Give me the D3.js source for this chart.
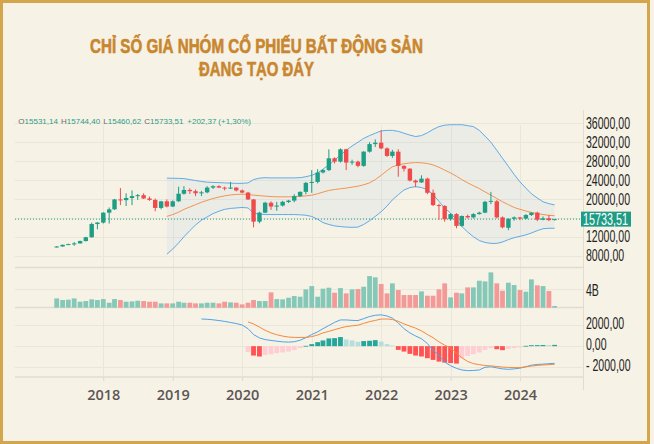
<!DOCTYPE html>
<html>
<head>
<meta charset="utf-8">
<script src="https://cdn.jsdelivr.net/npm/d3@7"></script>
<style>
  body { margin: 0; background: #f7f2e6; }
  svg { display: block; }
</style>
</head>
<body>
<div id="chart"></div>
<script>
const W = 654, H = 444;

// monthly bars, May 2017 .. Jul 2024
const months = d3.utcMonth.range(new Date(Date.UTC(2017, 4, 1)), new Date(Date.UTC(2024, 7, 1)));

const open = [9850, 9950, 10300, 10450, 10600, 11100, 11900, 14700, 15000, 17100,
  17800, 19900, 19750, 20200, 20600, 20800, 20100, 19800, 18100, 19500,
  18400, 19500, 21100, 21900, 21650, 21200, 21400, 22400, 22700, 22400,
  22300, 22400, 21800, 21350, 19900, 15200, 17100, 19200, 18400, 18600,
  19350, 19650, 20600, 21500, 23400, 23600, 25600, 26100, 28600, 27900,
  30500, 27700, 27900, 27000, 30000, 31600, 31900, 30700, 29100, 30000,
  27000, 26400, 23900, 23500, 24300, 21300, 18700, 18500, 15700, 16800,
  14300, 16400, 16100, 16800, 17100, 19400, 19500, 16100, 13900, 15800,
  16100, 15850, 16600, 17100, 15600, 15900, 15531.14];
const high = [10050, 10350, 10550, 10900, 11200, 12000, 15000, 15100, 17200, 18200,
  20000, 22300, 21200, 21800, 21050, 21200, 20500, 20100, 19600, 19900,
  19700, 22600, 22700, 22250, 22000, 21700, 22700, 22900, 22900, 22600,
  23600, 22500, 22000, 21500, 20000, 17300, 19400, 19500, 19400, 19600,
  19800, 21000, 21600, 23600, 26100, 26300, 26300, 30500, 28800, 30700,
  30600, 28300, 28100, 30100, 32000, 32600, 34500, 30900, 30400, 30500,
  27100, 26500, 24100, 25000, 24500, 22000, 19000, 18700, 17000, 17000,
  16500, 16700, 17000, 17300, 19600, 21500, 19800, 16300, 15900, 16300,
  16200, 16800, 17200, 17300, 16300, 16600, 15744.40];
const low = [9750, 9900, 10250, 10100, 10550, 11000, 11800, 13600, 14800, 14800,
  17700, 18700, 18500, 18700, 19800, 20000, 19600, 17400, 17800, 18200,
  18300, 19400, 20900, 21050, 20600, 20600, 21200, 22100, 22300, 21800,
  22100, 21600, 21200, 19800, 14000, 14850, 17000, 17700, 17500, 18400,
  19150, 19300, 20400, 21000, 21300, 23300, 25400, 25900, 27500, 27700,
  26100, 27200, 26700, 26800, 29800, 31000, 30500, 28900, 28700, 24700,
  25800, 23700, 22500, 23400, 21000, 18500, 15600, 15200, 15400, 13800,
  14100, 15900, 15900, 16700, 17000, 18900, 15900, 13800, 13400, 15400,
  15500, 15700, 16400, 15300, 15500, 15300, 15460.62];
const close = [9950, 10300, 10450, 10600, 11100, 11900, 14700, 15000, 17100, 17800,
  19900, 19750, 20200, 20600, 20800, 20100, 19800, 18100, 19500, 18400,
  19500, 21100, 21900, 21650, 21200, 21400, 22400, 22700, 22400, 22300,
  22400, 21800, 21350, 19900, 15200, 17100, 19200, 18400, 18600, 19400,
  19650, 20600, 21500, 23400, 23600, 25600, 26100, 28600, 27900, 30500,
  27700, 27900, 27000, 30000, 31600, 31900, 30700, 29100, 30000, 27000,
  26400, 23900, 23500, 24300, 21300, 18700, 18500, 15700, 16800, 14300,
  16400, 16100, 16800, 17100, 19400, 19600, 16100, 14000, 15800, 16100,
  15850, 16600, 17100, 15600, 15900, 15531, 15733.51];

// volume, billions
const volume = [1.94, 1.60, 1.67, 1.94, 1.25, 1.39, 1.74, 1.60, 1.80, 1.04,
  1.80, 1.60, 1.25, 1.32, 1.46, 1.39, 1.25, 1.25, 0.90, 0.90,
  0.90, 1.25, 1.04, 1.04, 0.90, 0.90, 1.04, 1.04, 0.90, 1.25,
  1.11, 1.04, 0.69, 1.04, 1.60, 1.39, 1.39, 3.19, 1.80, 1.74,
  2.08, 2.43, 2.29, 3.82, 4.51, 2.29, 3.96, 4.16, 3.12, 4.09,
  2.98, 3.82, 3.89, 4.37, 6.59, 6.32, 4.93, 2.98, 5.07, 3.68,
  2.64, 2.64, 2.64, 3.40, 2.50, 2.50, 3.82, 5.07, 2.15, 3.12,
  2.98, 4.23, 4.23, 5.62, 5.48, 7.36, 5.07, 3.54, 5.21, 4.72,
  3.68, 3.33, 5.90, 4.65, 4.51, 3.47, 0.35];

// Bollinger bands, from Dec 2018 (bar 19)
const bbStart = 19;
const bbUpper = [24400, 24380, 24350, 24300, 24100, 23900, 23700, 23550, 23500, 23450,
  23400, 23350, 23300, 23300, 23400, 24100, 24400, 24500, 24450, 24450,
  24450, 24450, 24450, 24500, 24700, 25000, 25500, 26300, 27200, 28200,
  29300, 30300, 31200, 32000, 32800, 33400, 33900, 34400, 34500, 34500,
  34300, 33900, 33500, 33200, 33400, 34000, 34700, 35300, 35600, 35700,
  35700, 35700, 35500, 35300, 34500, 33300, 32000, 30300, 28600, 26900,
  25200, 23600, 22300, 21100, 20200, 19400, 19000, 18750];
const bbMiddle = [16300, 16700, 17200, 17800, 18300, 18800, 19300, 19700, 20100, 20400,
  20650, 20850, 20950, 21000, 20950, 20800, 20700, 20600, 20500, 20450,
  20450, 20450, 20500, 20550, 20650, 20800, 21100, 21450, 21800, 22000,
  22150, 22300, 22500, 22700, 23000, 23400, 24100, 25000, 26000, 26800,
  27200, 27450, 27600, 27700, 27650, 27500, 27200, 26700, 26100, 25500,
  24800, 24100, 23400, 22800, 22200, 21500, 20800, 20100, 19400, 18800,
  18200, 17800, 17450, 17150, 16900, 16700, 16550, 16450];
const bbLower = [8300, 9400, 10700, 12000, 13300, 14500, 15500, 16200, 16900, 17400,
  17800, 18000, 18100, 18200, 18100, 17000, 16800, 16700, 16700, 16700,
  16700, 16700, 16700, 16650, 16550, 16300, 15700, 15000, 14600, 14300,
  14150, 14050, 14000, 14050, 14600, 15400, 16300, 17300, 18500, 19800,
  20900, 21900, 22400, 22600, 22400, 22000, 20900, 19500, 18100, 17000,
  15600, 14200, 13000, 12000, 11200, 10800, 10600, 10600, 10900, 11400,
  11800, 12100, 12400, 12800, 13300, 13700, 13800, 13800];

// MACD line from Jun 2019 (bar 25), signal and histogram from Feb 2020 (bar 33)
const macdStart = 25;
const macdLine = [2570, 2540, 2490, 2420, 2340, 2240, 2140, 2000, 1650, 1100,
  780, 620, 540, 470, 410, 380, 420, 560, 800, 1100,
  1350, 1650, 1950, 2250, 2480, 2480, 2440, 2420, 2600, 2800,
  2920, 2960, 2850, 2650, 2200, 1650, 1250, 960, 700, 250,
  -400, -850, -1500, -1850, -2100, -2250, -2320, -2300, -2250, -2000,
  -1950, -2050, -2150, -2190, -2150, -2080, -1950, -1800, -1730, -1700,
  -1660, -1620];
const signalStart = 33;
const signalLine = [2290, 2100, 1800, 1500, 1250, 1080, 950, 860, 830, 820,
  830, 900, 1050, 1250, 1400, 1560, 1720, 1850, 1920, 1980,
  2150, 2320, 2430, 2560, 2570, 2520, 2350, 2100, 1900, 1700,
  1450, 1100, 800, 400, 100, -200, -650, -1100, -1450, -1650,
  -1750, -1830, -1870, -1920, -1980, -2010, -2030, -2030, -1950, -1880,
  -1820, -1780, -1750, -1710];
const histogram = [-560, -890, -980, -830, -760, -670, -600, -510, -380, -190,
  30, 190, 380, 540, 730, 760, 860, 630, 540, 410,
  480, 510, 570, 430, 190, 60, -350, -510, -730, -890,
  -980, -1140, -1300, -1460, -1560, -1600, -1650, -1140, -920, -760,
  -600, -350, -190, -290, -380, -250, -190, -120, 30, 90,
  95, 110, 100, 120];

const priceTicks = [8000, 12000, 20000, 24000, 28000, 32000, 36000];
const priceGrid = [8000, 12000, 16000, 20000, 24000, 28000, 32000, 36000];
const macdTicks = [2000, 0, -2000];
const years = [2018, 2019, 2020, 2021, 2022, 2023, 2024];

const title1 = 'CHỈ SỐ GIÁ NHÓM CỔ PHIẾU BẤT ĐỘNG SẢN';
const title2 = 'ĐANG TẠO ĐÁY';

const green = '#1e9e85', red = '#ef4b4b';
const volGreen = '#86c8b7', volRed = '#f39a98';
const blue = '#4ea3e6', orange = '#f5893a';
const grid = '#ebe6da', sep = '#e1dcd0';
const narrow = '"Liberation Sans Narrow", "Liberation Sans", Arial, sans-serif';

const loc = d3.formatLocale({ decimal: ',', thousands: '', grouping: [3], currency: ['', ''] });
const fmt = loc.format('.2f');

const left = 15, right = 583;

const x = d3.scaleUtc()
  .domain([new Date(Date.UTC(2018, 0, 1)), new Date(Date.UTC(2024, 0, 1))])
  .range([103.3, 520]);
const yP = d3.scaleLinear().domain([8000, 36000]).range([255.7, 123.3]);
const yV = d3.scaleLinear().domain([0, 4]).range([307.7, 288.5]);
const yM = d3.scaleLinear().domain([-2000, 2000]).range([367.3, 325]);

const svg = d3.select('#chart').append('svg').attr('width', W).attr('height', H);

svg.append('rect').attr('width', W).attr('height', H).attr('fill', '#f7f2e6');
svg.append('rect')
  .attr('x', 1.5).attr('y', 1.5).attr('width', 647).attr('height', 441)
  .attr('fill', 'none').attr('stroke', '#d3a64c').attr('stroke-width', 3);

// title
[[title1, 52.5, 333], [title2, 76, 115]].forEach(([t, ty, tw]) => {
  svg.append('text')
    .attr('x', 256.5).attr('y', ty)
    .attr('text-anchor', 'middle')
    .attr('textLength', tw).attr('lengthAdjust', 'spacingAndGlyphs')
    .style('font-family', narrow).style('font-weight', 'bold').style('font-size', '19.5px')
    .attr('fill', '#c8862f').attr('stroke', '#c8862f').attr('stroke-width', 0.6)
    .text(t);
});

// grid
const gGrid = svg.append('g');
gGrid.selectAll('.hgrid').data(priceGrid).join('line')
  .attr('x1', left).attr('x2', right)
  .attr('y1', d => Math.round(yP(d)) + 0.5).attr('y2', d => Math.round(yP(d)) + 0.5)
  .attr('stroke', grid);
gGrid.selectAll('.vgrid').data(years).join('line')
  .attr('x1', d => Math.round(x(new Date(Date.UTC(d, 0, 1)))) + 0.5)
  .attr('x2', d => Math.round(x(new Date(Date.UTC(d, 0, 1)))) + 0.5)
  .attr('y1', 125).attr('y2', 381)
  .attr('stroke', grid);
gGrid.append('line').attr('x1', left).attr('x2', right).attr('y1', Math.round(yV(4)) + 0.5).attr('y2', Math.round(yV(4)) + 0.5).attr('stroke', grid);
gGrid.selectAll('.mgrid').data(macdTicks).join('line')
  .attr('x1', left).attr('x2', right)
  .attr('y1', d => Math.round(yM(d)) + 0.5).attr('y2', d => Math.round(yM(d)) + 0.5)
  .attr('stroke', grid);
[267.5, 307.5, 377].forEach(yy => {
  gGrid.append('line').attr('x1', left).attr('x2', right).attr('y1', yy).attr('y2', yy)
    .attr('stroke', sep).attr('stroke-width', 1.5);
});
gGrid.append('line').attr('x1', right + 0.5).attr('x2', right + 0.5).attr('y1', 110).attr('y2', 390).attr('stroke', sep);

// Bollinger bands
const bbIdx = d3.range(bbUpper.length);
svg.append('path')
  .datum(bbIdx)
  .attr('d', d3.area().x(k => x(months[k + bbStart])).y0(k => yP(bbLower[k])).y1(k => yP(bbUpper[k])))
  .attr('fill', '#2196f3').attr('fill-opacity', 0.055);
[[bbUpper, blue], [bbLower, blue], [bbMiddle, orange]].forEach(([arr, col]) => {
  svg.append('path')
    .datum(bbIdx)
    .attr('d', d3.line().x(k => x(months[k + bbStart])).y(k => yP(arr[k])))
    .attr('fill', 'none').attr('stroke', col).attr('stroke-width', 0.9);
});

// last price line
const last = close[close.length - 1];
svg.append('line')
  .attr('x1', left).attr('x2', right)
  .attr('y1', yP(last)).attr('y2', yP(last))
  .attr('stroke', green).attr('stroke-dasharray', '1,2');

// candles
const idx = d3.range(months.length);
const up = i => close[i] >= open[i];
const gC = svg.append('g');
gC.selectAll('line').data(idx).join('line')
  .attr('x1', i => x(months[i])).attr('x2', i => x(months[i]))
  .attr('y1', i => yP(high[i])).attr('y2', i => yP(low[i]))
  .attr('stroke', i => up(i) ? green : red).attr('stroke-width', 1);
gC.selectAll('rect').data(idx).join('rect')
  .attr('x', i => x(months[i]) - 2.2)
  .attr('width', 4.4)
  .attr('y', i => yP(Math.max(open[i], close[i])))
  .attr('height', i => Math.max(1, Math.abs(yP(open[i]) - yP(close[i]))))
  .attr('fill', i => up(i) ? green : red);

// volume
svg.append('g').selectAll('rect').data(idx).join('rect')
  .attr('x', i => x(months[i]) - 2.4)
  .attr('width', 4.8)
  .attr('y', i => yV(volume[i]))
  .attr('height', i => yV(0) - yV(volume[i]))
  .attr('fill', i => up(i) ? volGreen : volRed);

// MACD histogram
const hIdx = d3.range(histogram.length);
const histColor = k => {
  const v = histogram[k], prev = k > 0 ? histogram[k - 1] : -Infinity;
  if (v >= 0) return v >= prev ? '#26a69a' : '#b2dfdb';
  return v < prev ? '#ff5252' : '#ffcdd2';
};
svg.append('g').selectAll('rect').data(hIdx).join('rect')
  .attr('x', k => x(months[k + signalStart]) - 2.4)
  .attr('width', 4.8)
  .attr('y', k => Math.min(yM(0), yM(histogram[k])))
  .attr('height', k => Math.max(0.8, Math.abs(yM(histogram[k]) - yM(0))))
  .attr('fill', histColor);

svg.append('path')
  .datum(d3.range(macdLine.length))
  .attr('d', d3.line().x(k => x(months[k + macdStart])).y(k => yM(macdLine[k])))
  .attr('fill', 'none').attr('stroke', blue).attr('stroke-width', 1);
svg.append('path')
  .datum(d3.range(signalLine.length))
  .attr('d', d3.line().x(k => x(months[k + signalStart])).y(k => yM(signalLine[k])))
  .attr('fill', 'none').attr('stroke', orange).attr('stroke-width', 1);

// x axis
const xAxis = d3.axisBottom(x)
  .tickValues(years.map(y => new Date(Date.UTC(y, 0, 1))))
  .tickFormat(d3.utcFormat('%Y'))
  .tickSize(4).tickPadding(9);
const gx = svg.append('g').attr('transform', 'translate(0,377)').call(xAxis);
gx.select('.domain').remove();
gx.selectAll('line').attr('stroke', sep);
gx.selectAll('text')
  .style('font-family', '"Open Sans", "Noto Sans", sans-serif')
  .style('font-weight', 600).style('font-size', '14.5px')
  .attr('fill', '#5b5654');

// right axis labels, squeezed to the narrow look of the original
function squeeze(sel, ref, refWidth) {
  const probe = svg.append('text').style('font-family', narrow).style('font-size', '16px').text(ref);
  const k = refWidth / probe.node().getComputedTextLength();
  probe.remove();
  sel.each(function () {
    const len = this.getComputedTextLength();
    d3.select(this).attr('textLength', len * k).attr('lengthAdjust', 'spacingAndGlyphs');
  });
}

const yAxis = d3.axisRight(yP).tickValues(priceTicks).tickFormat(fmt).tickSize(0).tickPadding(3);
const gy = svg.append('g').attr('transform', `translate(${right},0)`).call(yAxis);
gy.select('.domain').remove();
gy.selectAll('text').style('font-family', narrow).style('font-size', '16px').attr('fill', '#222222');
squeeze(gy.selectAll('text'), '36000,00', 44);

const gm = svg.append('g');
gm.selectAll('text').data(macdTicks).join('text')
  .attr('x', 586).attr('y', d => yM(d) - 2).attr('dy', '0.35em')
  .style('font-family', narrow).style('font-size', '16px').attr('fill', '#222222')
  .text(d => d < 0 ? '- ' + fmt(-d) : fmt(d));
squeeze(gm.selectAll('text'), '36000,00', 44);

const gvl = svg.append('text')
  .attr('x', 586).attr('y', yV(4) + 1.5).attr('dy', '0.35em')
  .style('font-family', narrow).style('font-size', '16px').attr('fill', '#222222')
  .text('4B');
squeeze(gvl, '36000,00', 44);

// last price tag
svg.append('rect')
  .attr('x', 581).attr('y', yP(last) - 7.5).attr('width', 50).attr('height', 15)
  .attr('fill', '#1f9c86');
const tag = svg.append('text')
  .attr('x', 583).attr('y', yP(last)).attr('dy', '0.36em')
  .style('font-family', narrow).style('font-size', '16px').attr('fill', '#ffffff')
  .text(fmt(last));
squeeze(tag, '36000,00', 45);

// OHLC header
const chg = last - open[open.length - 1];
const hdrItems = [
  { x: 18.3, k: 'O', v: fmt(open[open.length - 1]) },
  { x: 61, k: 'H', v: fmt(high[high.length - 1]) },
  { x: 103.3, k: 'L', v: fmt(low[low.length - 1]) },
  { x: 144.3, k: 'C', v: fmt(last) },
  { x: 187.3, k: '', v: '+' + fmt(chg) },
  { x: 218.3, k: '', v: '(+' + fmt(chg / open[open.length - 1] * 100) + '%)' }
];
hdrItems.forEach(h => {
  const t = svg.append('text').attr('x', h.x).attr('y', 123.6)
    .style('font-family', '"Liberation Sans", Arial, sans-serif')
    .style('font-size', '8px');
  if (h.k) t.append('tspan').attr('fill', '#6a6a6a').text(h.k);
  t.append('tspan').attr('fill', '#2f9c88').text(h.v);
});
</script>
</body>
</html>
